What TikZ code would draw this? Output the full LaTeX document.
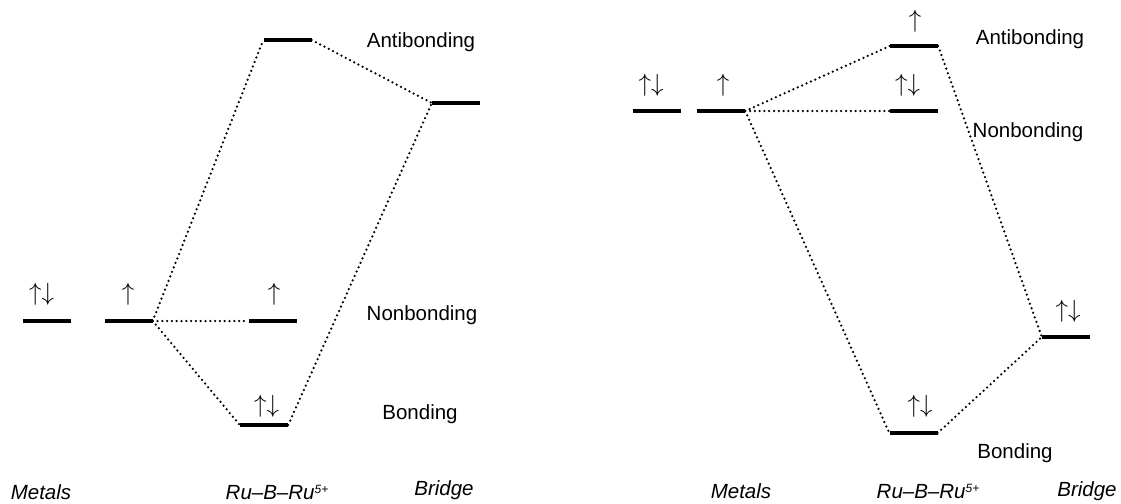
\documentclass[tikz,border=0pt]{standalone}
\usepackage{fontspec}
\setmainfont{Liberation Sans}
\usetikzlibrary{positioning}

\newcommand{\chargeup}[1]{\raisebox{0.55ex}{\fontsize{12}{12}\selectfont #1}}

\begin{document}
\begin{tikzpicture}[x=1pt, y=-1pt,
	orb/.style={fill=black, inner sep=0pt,
		minimum width=48pt, minimum height=4.5pt},
	spin/.style={inner sep=0pt, anchor=south,
		font=\fontsize{27}{29}\selectfont},
	tag/.style={inner sep=0pt, anchor=base,
		font=\fontsize{20.5}{24}\selectfont},
	foot/.style={tag, font=\fontsize{20.5}{24}\selectfont\itshape},
	mix/.style={line width=2.5pt, line cap=round,
		dash pattern=on 0pt off 4.8pt}]

	\useasboundingbox (0,0) rectangle (1121,503);

	% left diagram
	\node[orb] (lm1) at (47,321){};
	\node[orb] (lm2) at (128.5,321){};
	\node[orb] (lnb) at (272.5,321){};
	\node[orb] (lbd) at (264,425){};
	\node[orb] (lab) at (287.5,40){};
	\node[orb] (lbr) at (456,103){};

	\node[spin] (slm1) at (41.5,306){$\uparrow\downarrow$};
	\node[spin] (slm2) at (128,306){$\uparrow$};
	\node[spin] (slnb) at (274,306){$\uparrow$};
	\node[spin] (slbd) at (266.5,418){$\uparrow\downarrow$};

	\draw[mix] (lm2.east) -- (lnb.west);
	\draw[mix] (lm2.east) -- (lbd.west);
	\draw[mix] (lm2.east) -- (lab.west);
	\draw[mix] (lab.east) -- (lbr.west);
	\draw[mix] (lbd.east) -- (lbr.west);

	\node[tag] (tlab) at (421,48){Antibonding};
	\node[tag] (tlnb) at (422,320){Nonbonding};
	\node[tag] (tlbd) at (420,419){Bonding};

	\node[foot] (flm) at (41,499){Metals};
	\node[foot] (flc) at (277,499){Ru–B–Ru\chargeup{5+}};
	\node[foot] (flb) at (444,495){Bridge};

	% right diagram
	\node[orb] (rm1) at (657,111){};
	\node[orb] (rm2) at (721,111){};
	\node[orb] (rab) at (914,46){};
	\node[orb] (rnb) at (914,111){};
	\node[orb] (rbd) at (913.5,433){};
	\node[orb] (rbr) at (1066,337){};

	\node[spin] (srm1) at (651,97){$\uparrow\downarrow$};
	\node[spin] (srm2) at (723,97){$\uparrow$};
	\node[spin] (srab) at (915,33){$\uparrow$};
	\node[spin] (srnb) at (907.5,97){$\uparrow\downarrow$};
	\node[spin] (srbd) at (920,418){$\uparrow\downarrow$};
	\node[spin] (srbr) at (1068,323){$\uparrow\downarrow$};

	\draw[mix] (rm2.east) -- (rab.west);
	\draw[mix] (rm2.east) -- (rnb.west);
	\draw[mix] (rm2.east) -- (rbd.west);
	\draw[mix] (rab.east) -- (rbr.west);
	\draw[mix] (rbd.east) -- (rbr.west);

	\node[tag] (trab) at (1030,45){Antibonding};
	\node[tag] (trnb) at (1028,137){Nonbonding};
	\node[tag] (trbd) at (1015,458){Bonding};

	\node[foot] (frm) at (741,498){Metals};
	\node[foot] (frc) at (928,498){Ru–B–Ru\chargeup{5+}};
	\node[foot] (frb) at (1087,496){Bridge};

\end{tikzpicture}
\end{document}
